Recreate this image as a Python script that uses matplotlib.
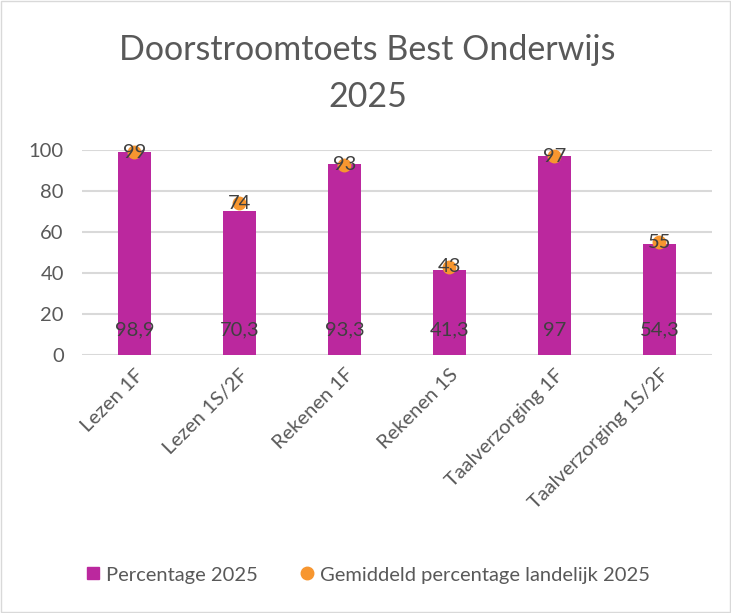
import matplotlib.pyplot as plt
import numpy as np
from matplotlib.patches import Rectangle
from matplotlib.lines import Line2D

# data
vakken = ["Lezen 1F", "Lezen 1S/2F", "Rekenen 1F", "Rekenen 1S",
          "Taalverzorging 1F", "Taalverzorging 1S/2F"]
percentage_2025 = [98.9, 70.3, 93.3, 41.3, 97, 54.3]
landelijk_2025 = [99, 74, 93, 43, 97, 55]

paars = '#BB289E'
oranje = '#F7962F'
grijs = '#595959'
tekst = '#404040'

plt.rcParams['font.family'] = ['Lato', 'DejaVu Sans']

fig = plt.figure(figsize=(7.31, 6.13), dpi=100)
ax = fig.add_axes([0.112, 0.421, 0.862, 0.334])

x = np.arange(len(vakken))
bars = ax.bar(x, percentage_2025, width=0.31, color=paars, zorder=2)
ax.plot(x, landelijk_2025, 'o', color=oranje, markersize=9, zorder=3,
        clip_on=False)

for xi, v in zip(x, percentage_2025):
    ax.text(xi, 12, f"{v:g}".replace('.', ','), ha='center', va='center',
            fontsize=14.5, color=tekst, zorder=4)
for xi, v in zip(x, landelijk_2025):
    ax.text(xi, v, f"{v}", ha='center', va='center',
            fontsize=14.5, color=tekst, zorder=4)

ax.set_xlim(-0.5, len(vakken) - 0.5)
ax.set_ylim(0, 100)
ax.set_yticks(range(0, 101, 20))
ax.grid(axis='y', color='#D9D9D9', linewidth=1.5, zorder=0)
ax.set_axisbelow(True)
for s in ax.spines.values():
    s.set_visible(False)
ax.tick_params(axis='y', length=0, labelsize=14.5, colors=grijs, pad=13)
ax.tick_params(axis='x', length=0, labelsize=14.5, colors=grijs, pad=8)
ax.set_xticks(x)
ax.set_xticklabels(vakken, rotation=45, ha='right', rotation_mode='anchor')

fig.text(0.503, 0.88, "Doorstroomtoets Best Onderwijs\n2025", ha='center',
         va='center', fontsize=24.5, color=grijs, linespacing=1.55)

handles = [Line2D([], [], marker='s', linestyle='', color=paars, markersize=9),
           Line2D([], [], marker='o', linestyle='', color=oranje, markersize=9)]
fig.legend(handles, ["Percentage 2025", "Gemiddeld percentage landelijk 2025"],
           loc='center', bbox_to_anchor=(0.5, 0.062), ncol=2, frameon=False,
           fontsize=14.5, labelcolor=grijs, handletextpad=0.05,
           columnspacing=1.8, handlelength=1.2)

fig.patches.append(Rectangle((0.002, 0.002), 0.996, 0.996, transform=fig.transFigure,
                             fill=False, edgecolor='#D9D9D9', linewidth=1))

fig.savefig("out.png", dpi=100)
